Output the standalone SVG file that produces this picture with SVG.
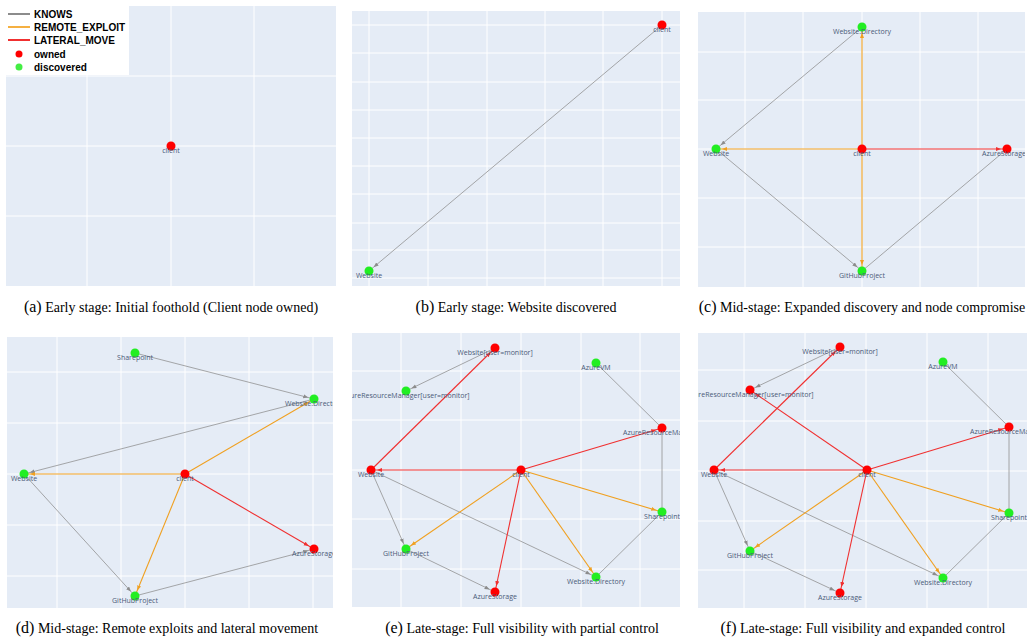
<svg xmlns="http://www.w3.org/2000/svg" width="1034" height="643" viewBox="0 0 1034 643">
<style>
.bg{fill:#e5ecf6}
.g{stroke:#fff;stroke-width:1}
.k{stroke:#8c8c8c;stroke-opacity:.75;stroke-width:1;fill:none}
.r{stroke:#f0a020;stroke-width:1.1;fill:none}
.l{stroke:#f03030;stroke-width:1.1;fill:none}
.o{fill:#ff0000}
.d{fill:#22ee22}
.nl{font-family:"Open Sans","DejaVu Sans",sans-serif;font-size:7px;fill:#4a5a78;text-anchor:middle}
.cap{font-family:"Liberation Serif",serif;font-size:14px;fill:#000;text-anchor:middle}
.cap tspan.p{font-size:16px}
.lg{font-family:"Liberation Sans",Arial,sans-serif;font-size:10px;font-weight:bold;fill:#000}
</style>
<defs>
<marker id="ak" markerUnits="userSpaceOnUse" markerWidth="14" markerHeight="6" refX="11" refY="2" orient="auto"><path d="M0,0 L5,2 L0,4 z" fill="#8c8c8c"/></marker>
<marker id="ar" markerUnits="userSpaceOnUse" markerWidth="14" markerHeight="6" refX="11" refY="2" orient="auto"><path d="M0,0 L5,2 L0,4 z" fill="#f0a020"/></marker>
<marker id="al" markerUnits="userSpaceOnUse" markerWidth="14" markerHeight="6" refX="11" refY="2" orient="auto"><path d="M0,0 L5,2 L0,4 z" fill="#f03030"/></marker>
<clipPath id="ca"><rect x="6" y="6" width="330" height="280"/></clipPath>
<clipPath id="cb"><rect x="352" y="11" width="328" height="275"/></clipPath>
<clipPath id="cc"><rect x="698" y="12" width="327" height="275"/></clipPath>
<clipPath id="cd"><rect x="7" y="337" width="326" height="271"/></clipPath>
<clipPath id="ce"><rect x="352" y="333" width="328" height="274"/></clipPath>
<clipPath id="cf"><rect x="698" y="333" width="329" height="275"/></clipPath>
</defs>

<!-- Panel a -->
<g id="panel-a" clip-path="url(#ca)">
<rect class="bg" x="6" y="6" width="330" height="280"/>
<path class="g" d="M87,6V286M171,6V286M254,6V286M6,76H336M6,146H336M6,216H336"/>
<g id="a-client"><circle class="o" cx="171" cy="146" r="4.5"/><text class="nl" x="171" y="153">client</text></g>
</g>
<g id="legend">
<rect x="6" y="6" width="123" height="69" fill="#fff"/>
<line x1="8" y1="14" x2="30" y2="14" stroke="#8c8c8c" stroke-width="2"/>
<line x1="8" y1="27" x2="30" y2="27" stroke="#f5b041" stroke-width="2"/>
<line x1="8" y1="40" x2="30" y2="40" stroke="#f03030" stroke-width="2"/>
<circle cx="19" cy="54" r="3.5" fill="#ff0000"/>
<circle cx="19" cy="67" r="3.5" fill="#44ee44"/>
<text class="lg" x="34" y="18">KNOWS</text>
<text class="lg" x="34" y="31">REMOTE_EXPLOIT</text>
<text class="lg" x="34" y="44">LATERAL_MOVE</text>
<text class="lg" x="34" y="58">owned</text>
<text class="lg" x="34" y="71">discovered</text>
</g>
<text class="cap" x="171" y="312"><tspan class="p">(a)</tspan> Early stage: Initial foothold (Client node owned)</text>

<!-- Panel b -->
<g id="panel-b" clip-path="url(#cb)">
<rect class="bg" x="352" y="11" width="328" height="275"/>
<path class="g" d="M369,11V286M428,11V286M487,11V286M545,11V286M603,11V286M662,11V286M352,25H680M352,53H680M352,82H680M352,110H680M352,138H680M352,166H680M352,194H680M352,223H680M352,250H680M352,278H680"/>
<g id="b-edges"><line class="k" x1="662" y1="25" x2="369" y2="271" marker-end="url(#ak)"/></g>
<g id="b-client"><circle class="o" cx="662" cy="25" r="4.5"/><text class="nl" x="662" y="32">client</text></g>
<g id="b-website"><circle class="d" cx="369" cy="271" r="4.5"/><text class="nl" x="369" y="278">Website</text></g>
</g>
<text class="cap" x="516" y="312"><tspan class="p">(b)</tspan> Early stage: Website discovered</text>

<!-- Panel c -->
<g id="panel-c" clip-path="url(#cc)">
<rect class="bg" x="698" y="12" width="327" height="275"/>
<path class="g" d="M745,12V287M803,12V287M862,12V287M920,12V287M978,12V287M698,52H1025M698,100H1025M698,149H1025M698,198H1025M698,247H1025"/>
<g id="c-edges">
<line class="k" x1="862" y1="27" x2="716" y2="149" marker-end="url(#ak)"/>
<line class="k" x1="716" y1="149" x2="862" y2="271" marker-end="url(#ak)"/>
<line class="k" x1="1007" y1="149" x2="862" y2="271"/>
<line class="r" x1="862" y1="149" x2="716" y2="149" marker-end="url(#ar)"/>
<line class="r" x1="862" y1="149" x2="862" y2="27" marker-end="url(#ar)"/>
<line class="r" x1="862" y1="149" x2="862" y2="271" marker-end="url(#ar)"/>
<line class="l" x1="862" y1="149" x2="1007" y2="149" marker-end="url(#al)"/>
</g>
<g id="c-wd"><circle class="d" cx="862" cy="27" r="4.5"/><text class="nl" x="862" y="34">Website.Directory</text></g>
<g id="c-website"><circle class="d" cx="716" cy="149" r="4.5"/><text class="nl" x="716" y="156">Website</text></g>
<g id="c-client"><circle class="o" cx="862" cy="149" r="4.5"/><text class="nl" x="862" y="156">client</text></g>
<g id="c-as"><circle class="o" cx="1007" cy="149" r="4.5"/><text class="nl" x="1004" y="156">AzureStorage</text></g>
<g id="c-gh"><circle class="d" cx="862" cy="271" r="4.5"/><text class="nl" x="862" y="278">GitHubProject</text></g>
</g>
<text class="cap" x="862" y="312"><tspan class="p">(c)</tspan> Mid-stage: Expanded discovery and node compromise</text>

<!-- Panel d -->
<g id="panel-d" clip-path="url(#cd)">
<rect class="bg" x="7" y="337" width="326" height="271"/>
<path class="g" d="M57,337V608M121,337V608M185,337V608M249,337V608M313,337V608M7,372H333M7,423H333M7,474H333M7,525H333M7,576H333"/>
<g id="d-edges">
<line class="k" x1="135" y1="353" x2="314" y2="399" marker-end="url(#ak)"/>
<line class="k" x1="314" y1="399" x2="24" y2="474" marker-end="url(#ak)" stroke-width="1.3"/>
<line class="k" x1="24" y1="474" x2="135" y2="596" marker-end="url(#ak)"/>
<line class="k" x1="135" y1="596" x2="314" y2="549" marker-end="url(#ak)"/>
<line class="r" x1="185" y1="474" x2="24" y2="474" marker-end="url(#ar)"/>
<line class="r" x1="185" y1="474" x2="314" y2="399" marker-end="url(#ar)"/>
<line class="r" x1="185" y1="474" x2="135" y2="596" marker-end="url(#ar)"/>
<line class="l" x1="185" y1="474" x2="314" y2="549" marker-end="url(#al)"/>
</g>
<g id="d-sp"><circle class="d" cx="135" cy="353" r="4.5"/><text class="nl" x="135" y="360">Sharepoint</text></g>
<g id="d-wd"><circle class="d" cx="314" cy="399" r="4.5"/><text class="nl" x="314" y="406">Website.Directory</text></g>
<g id="d-website"><circle class="d" cx="24" cy="474" r="4.5"/><text class="nl" x="24" y="481">Website</text></g>
<g id="d-client"><circle class="o" cx="185" cy="474" r="4.5"/><text class="nl" x="185" y="481">client</text></g>
<g id="d-as"><circle class="o" cx="314" cy="549" r="4.5"/><text class="nl" x="314" y="556">AzureStorage</text></g>
<g id="d-gh"><circle class="d" cx="135" cy="596" r="4.5"/><text class="nl" x="135" y="603">GitHubProject</text></g>
</g>
<text class="cap" x="167" y="633"><tspan class="p">(d)</tspan> Mid-stage: Remote exploits and lateral movement</text>

<!-- Panel e -->
<g id="panel-e" clip-path="url(#ce)">
<rect class="bg" x="352" y="333" width="328" height="274"/>
<path class="g" d="M401,333V607M461,333V607M521,333V607M581,333V607M640,333V607M352,371H680M352,420H680M352,470H680M352,519H680M352,569H680"/>
<g id="e-edges">
<line class="k" x1="495" y1="348" x2="406" y2="391" marker-end="url(#ak)"/>
<line class="k" x1="596" y1="363" x2="662" y2="428"/>
<line class="k" x1="662" y1="512" x2="662" y2="428" stroke-width="1.4"/>
<line class="k" x1="371" y1="470" x2="406" y2="549" marker-end="url(#ak)"/>
<line class="k" x1="371" y1="470" x2="596" y2="577" marker-end="url(#ak)" stroke-width="1.3"/>
<line class="k" x1="406" y1="549" x2="495" y2="592" marker-end="url(#ak)"/>
<line class="k" x1="596" y1="577" x2="662" y2="512"/>
<line class="l" x1="371" y1="470" x2="495" y2="348" marker-end="url(#al)"/>
<line class="l" x1="521" y1="470" x2="371" y2="470" marker-end="url(#al)"/>
<line class="l" x1="521" y1="470" x2="662" y2="428" marker-end="url(#al)"/>
<line class="l" x1="521" y1="470" x2="495" y2="592" marker-end="url(#al)"/>
<line class="r" x1="521" y1="470" x2="406" y2="549" marker-end="url(#ar)"/>
<line class="r" x1="521" y1="470" x2="596" y2="577" marker-end="url(#ar)"/>
<line class="r" x1="521" y1="470" x2="662" y2="512" marker-end="url(#ar)"/>
</g>
<g id="e-wm"><circle class="o" cx="495" cy="348" r="4.5"/><text class="nl" x="495" y="355">Website[user=monitor]</text></g>
<g id="e-arm-m"><circle class="d" cx="406" cy="391" r="4.5"/><text class="nl" x="406" y="398">AzureResourceManager[user=monitor]</text></g>
<g id="e-vm"><circle class="d" cx="596" cy="363" r="4.5"/><text class="nl" x="596" y="370">AzureVM</text></g>
<g id="e-arm"><circle class="o" cx="662" cy="428" r="4.5"/><text class="nl" x="662" y="435">AzureResourceManager</text></g>
<g id="e-website"><circle class="o" cx="371" cy="470" r="4.5"/><text class="nl" x="371" y="477">Website</text></g>
<g id="e-client"><circle class="o" cx="521" cy="470" r="4.5"/><text class="nl" x="521" y="477">client</text></g>
<g id="e-sp"><circle class="d" cx="662" cy="512" r="4.5"/><text class="nl" x="662" y="519">Sharepoint</text></g>
<g id="e-gh"><circle class="d" cx="406" cy="549" r="4.5"/><text class="nl" x="406" y="556">GitHubProject</text></g>
<g id="e-wd"><circle class="d" cx="596" cy="577" r="4.5"/><text class="nl" x="596" y="584">Website.Directory</text></g>
<g id="e-as"><circle class="o" cx="495" cy="592" r="4.5"/><text class="nl" x="495" y="599">AzureStorage</text></g>
</g>
<text class="cap" x="522" y="633"><tspan class="p">(e)</tspan> Late-stage: Full visibility with partial control</text>

<!-- Panel f -->
<g id="panel-f" clip-path="url(#cf)">
<rect class="bg" x="698" y="333" width="329" height="275"/>
<path class="g" d="M744,333V608M805,333V608M866,333V608M927,333V608M988,333V608M698,370H1027M698,421H1027M698,471H1027M698,521H1027M698,570H1027"/>
<g id="f-edges">
<line class="k" x1="840" y1="347" x2="750" y2="390" marker-end="url(#ak)"/>
<line class="k" x1="943" y1="362" x2="1009" y2="427"/>
<line class="k" x1="1009" y1="513" x2="1009" y2="427" stroke-width="1.4"/>
<line class="k" x1="714" y1="470" x2="750" y2="551" marker-end="url(#ak)"/>
<line class="k" x1="714" y1="470" x2="943" y2="578" marker-end="url(#ak)" stroke-width="1.3"/>
<line class="k" x1="750" y1="551" x2="840" y2="593" marker-end="url(#ak)"/>
<line class="k" x1="943" y1="578" x2="1009" y2="513"/>
<line class="l" x1="714" y1="470" x2="840" y2="347" marker-end="url(#al)"/>
<line class="l" x1="867" y1="470" x2="714" y2="470" marker-end="url(#al)"/>
<line class="l" x1="867" y1="470" x2="750" y2="390" marker-end="url(#al)"/>
<line class="l" x1="867" y1="470" x2="1009" y2="427" marker-end="url(#al)"/>
<line class="l" x1="867" y1="470" x2="840" y2="593" marker-end="url(#al)"/>
<line class="r" x1="867" y1="470" x2="750" y2="551" marker-end="url(#ar)"/>
<line class="r" x1="867" y1="470" x2="943" y2="578" marker-end="url(#ar)"/>
<line class="r" x1="867" y1="470" x2="1009" y2="513" marker-end="url(#ar)"/>
</g>
<g id="f-wm"><circle class="o" cx="840" cy="347" r="4.5"/><text class="nl" x="840" y="354">Website[user=monitor]</text></g>
<g id="f-arm-m"><circle class="o" cx="750" cy="390" r="4.5"/><text class="nl" x="750" y="397">AzureResourceManager[user=monitor]</text></g>
<g id="f-vm"><circle class="d" cx="943" cy="362" r="4.5"/><text class="nl" x="943" y="369">AzureVM</text></g>
<g id="f-arm"><circle class="o" cx="1009" cy="427" r="4.5"/><text class="nl" x="1009" y="434">AzureResourceManager</text></g>
<g id="f-website"><circle class="o" cx="714" cy="470" r="4.5"/><text class="nl" x="714" y="477">Website</text></g>
<g id="f-client"><circle class="o" cx="867" cy="470" r="4.5"/><text class="nl" x="867" y="477">client</text></g>
<g id="f-sp"><circle class="d" cx="1009" cy="513" r="4.5"/><text class="nl" x="1009" y="520">Sharepoint</text></g>
<g id="f-gh"><circle class="d" cx="750" cy="551" r="4.5"/><text class="nl" x="750" y="558">GitHubProject</text></g>
<g id="f-wd"><circle class="d" cx="943" cy="578" r="4.5"/><text class="nl" x="943" y="585">Website.Directory</text></g>
<g id="f-as"><circle class="o" cx="840" cy="593" r="4.5"/><text class="nl" x="840" y="600">AzureStorage</text></g>
</g>
<text class="cap" x="863" y="633"><tspan class="p">(f)</tspan> Late-stage: Full visibility and expanded control</text>
</svg>
